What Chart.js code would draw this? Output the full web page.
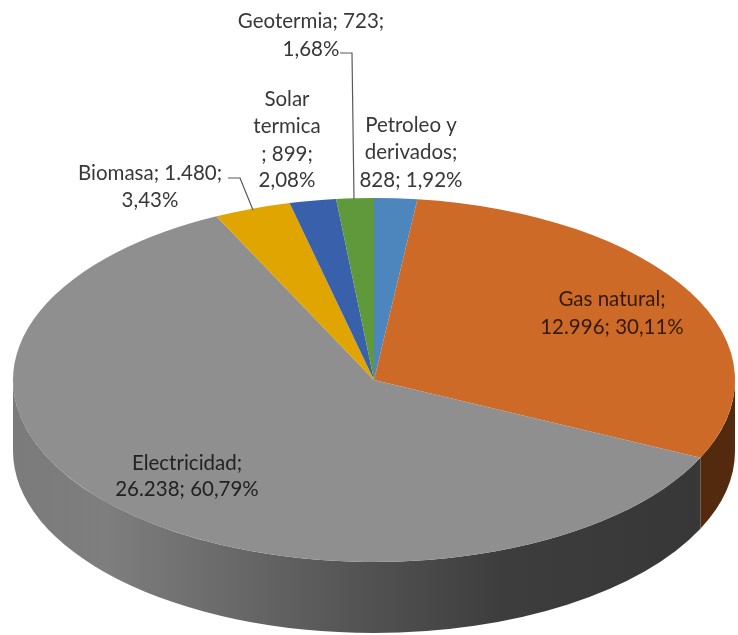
<!DOCTYPE html>
<html>
<head>
<meta charset="utf-8">
<style>
html,body{margin:0;padding:0;background:#fff}
canvas{display:block;filter:blur(0.45px)}
</style>
<script src="https://cdn.jsdelivr.net/npm/chart.js@4"></script>
</head>
<body>
<canvas id="c" width="738" height="635"></canvas>
<script>
const categories = ["Petroleo y derivados","Gas natural","Electricidad","Biomasa","Solar termica","Geotermia"];
const values = [828, 12996, 26238, 1480, 899, 723];
const percents = ["1,92%","30,11%","60,79%","3,43%","2,08%","1,68%"];
const sliceColors = ["#4d86bd","#cd6a27","#8f8f8f","#e0a500","#3860ab","#5f993c"];
const labelLines = [
  ["Petroleo y","derivados;","828; 1,92%"],
  ["Gas natural;","12.996; 30,11%"],
  ["Electricidad;","26.238; 60,79%"],
  ["Biomasa; 1.480;","3,43%"],
  ["Solar","termica","; 899;","2,08%"],
  ["Geotermia; 723;","1,68%"]
];
const labelAnchors = [
  {x:411,ys:[125,152,180]},
  {x:612,ys:[299,327]},
  {x:187,ys:[463,489]},
  {x:150,ys:[173,200]},
  {x:287,ys:[99,126,154,180]},
  {x:311,ys:[21,49]}
];
const leaders = [
  [[340,53],[352,53],[354,199]],
  [[228,178],[240,178],[253,210]]
];
const tilt = 182/361, depth = 71;

const pie3d = {
  id:'pie3d',
  beforeDatasetsDraw(chart){
    const ctx = chart.ctx, arcs = chart.getDatasetMeta(0).data;
    const {x:cx,y:cy,outerRadius:r} = arcs[0];
    const ry = r*tilt;
    arcs.forEach((a,i)=>{
      // the wall only shows on the front half of the ellipse
      let s = a.startAngle, e = a.endAngle;
      s = Math.max(s,0); e = Math.min(e,Math.PI);
      if (e <= s) return;
      let fill;
      if (categories[i]==="Electricidad"){
        fill = ctx.createLinearGradient(cx-r,0,cx+r,0);
        fill.addColorStop(0,"#7b7b7b");
        fill.addColorStop(0.13,"#7e7e7e");
        fill.addColorStop(0.5,"#515151");
        fill.addColorStop(0.68,"#3d3d3d");
        fill.addColorStop(1,"#363636");
      } else {
        fill = "#532a0e";
      }
      ctx.save();
      ctx.beginPath();
      ctx.ellipse(cx,cy,r,ry,0,s,e,false);
      ctx.ellipse(cx,cy+depth,r,ry,0,e,s,true);
      ctx.closePath();
      ctx.fillStyle = fill;
      ctx.fill();
      ctx.restore();
    });
    ctx.save();
    ctx.translate(cx,cy);
    ctx.scale(1,tilt);
    ctx.translate(-cx,-cy);
  },
  afterDatasetsDraw(chart){
    const ctx = chart.ctx;
    ctx.restore();
    ctx.save();
    ctx.strokeStyle = "#595959";
    ctx.lineWidth = 1.2;
    leaders.forEach(pts=>{
      ctx.beginPath();
      pts.forEach((p,i)=> i? ctx.lineTo(p[0],p[1]) : ctx.moveTo(p[0],p[1]));
      ctx.stroke();
    });
    ctx.textAlign = "center";
    ctx.textBaseline = "middle";
    ctx.font = '20.5px Lato, "Open Sans", sans-serif';
    labelLines.forEach((lines,i)=>{
      const a = labelAnchors[i];
      ctx.fillStyle = i===1 ? "#331a08" : (i===2 ? "#222222" : "#383838");
      lines.forEach((t,j)=>{
        ctx.fillText(t,a.x,a.ys[j]);
      });
    });
    ctx.restore();
  }
};

new Chart(document.getElementById('c'),{
  type:'pie',
  data:{labels:categories,datasets:[{data:values,backgroundColor:sliceColors,borderWidth:0}]},
  options:{
    responsive:false,
    animation:false,
    radius:361,
    rotation:0,
    layout:{padding:{left:10,top:125}},
    plugins:{legend:{display:false},tooltip:{enabled:false},title:{display:false}}
  },
  plugins:[pie3d]
});
</script>
</body>
</html>
